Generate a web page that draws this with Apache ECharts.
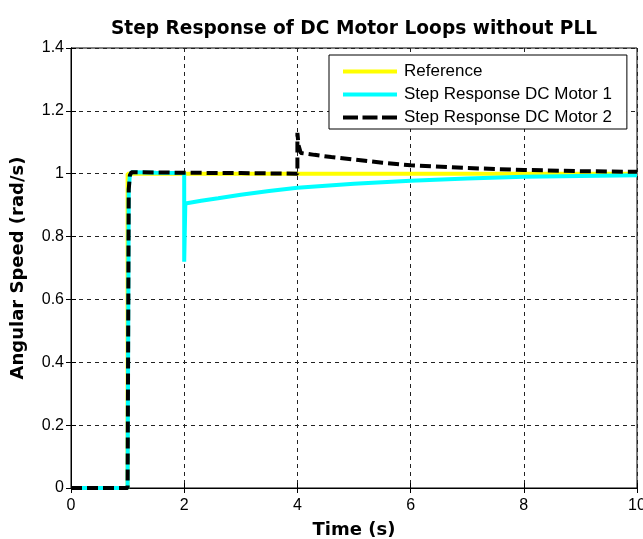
<!DOCTYPE html>
<html><head><meta charset="utf-8">
<script src="https://cdn.jsdelivr.net/npm/echarts@6/dist/echarts.min.js"></script>
<style>html,body{margin:0;padding:0;background:#fff;overflow:hidden}#c{width:643px;height:539px}</style>
</head><body><div id="c"></div>
<script>
const titleText = 'Step Response of DC Motor Loops without PLL';
const xTicks = [0, 2, 4, 6, 8, 10];
const yTicks = [0, 0.2, 0.4, 0.6, 0.8, 1, 1.2, 1.4];
const seriesNames = ['Reference', 'Step Response DC Motor 1', 'Step Response DC Motor 2'];

const refT = [0, 0.3, 1.0, 1.0, 2, 4, 6, 8, 10];
const refY = [0, 0, 0, 1.0, 1.0, 1.0, 1.0, 1.0, 1.0];

const m1T = [0, 0.3, 1.0, 1.02, 1.04, 1.07, 1.12, 1.5, 2.0, 2.0, 2.02, 2.3, 2.6, 3.0, 3.5, 4.0, 5.0, 6.0, 7.0, 8.0, 9.0, 10.0];
const m1Y = [0, 0, 0, 0.95, 0.995, 1.005, 1.005, 1.003, 1.002, 0.72, 0.905, 0.914, 0.922, 0.933, 0.945, 0.955, 0.968, 0.978, 0.985, 0.99, 0.993, 0.995];

const m2T = [0, 0.3, 1.0, 1.02, 1.04, 1.07, 1.12, 2.0, 3.0, 4.0, 4.0, 4.02, 4.06, 4.3, 4.6, 5.0, 5.5, 6.0, 7.0, 8.0, 9.0, 10.0];
const m2Y = [0, 0, 0, 0.95, 0.995, 1.005, 1.005, 1.003, 1.002, 1.0, 1.13, 1.09, 1.066, 1.06, 1.053, 1.045, 1.035, 1.027, 1.018, 1.012, 1.008, 1.006];

const zip = (a, b) => a.map((t, i) => [t, b[i]]);

const chart = echarts.init(document.getElementById('c'));
const font = 'Liberation Sans, Arial, sans-serif';
const boldFont = 'DejaVu Sans, sans-serif';
const gridL = 71, gridR = 6, gridT = 48, gridB = 51;
const noSym = { color: 'rgba(0,0,0,0)', borderColor: 'rgba(0,0,0,0)', borderWidth: 0 };
chart.setOption({
  animation: false,
  backgroundColor: '#fff',
  title: {
    text: titleText, left: 349, top: 15, textAlign: 'center',
    textStyle: { fontFamily: boldFont, fontWeight: 'bold', fontSize: 18.6, color: '#000' }
  },
  legend: {
    left: 329, top: 55, orient: 'vertical',
    padding: [8, 15, 3, 12],
    itemWidth: 54, itemHeight: 14, itemGap: 6,
    borderColor: '#000', borderWidth: 1, backgroundColor: '#fff',
    itemStyle: noSym,
    lineStyle: { width: 4 },
    textStyle: { fontFamily: font, fontSize: 17, color: '#000', padding: [0, 0, 0, 2] },
    data: [
      { name: seriesNames[0], itemStyle: noSym, lineStyle: { width: 4 } },
      { name: seriesNames[1], itemStyle: noSym, lineStyle: { width: 4 } },
      { name: seriesNames[2], itemStyle: noSym, lineStyle: { width: 4, type: [15, 4.5] } }
    ]
  },
  grid: { left: gridL, right: gridR, top: gridT, bottom: gridB, show: true, borderColor: '#000', borderWidth: 1,
    containLabel: false, outerBoundsMode: 'none' },
  xAxis: [{
    type: 'value', min: xTicks[0], max: xTicks[xTicks.length - 1], interval: 2,
    name: 'Time (s)', nameLocation: 'middle', nameGap: 33,
    nameTextStyle: { fontFamily: boldFont, fontWeight: 'bold', fontSize: 18, color: '#000' },
    axisLine: { show: true, lineStyle: { color: '#000', width: 1 } },
    axisTick: { show: true, inside: true, length: 5, lineStyle: { color: '#000' } },
    axisLabel: { fontFamily: font, fontSize: 16, color: '#000', margin: 10 },
    splitLine: { show: true, lineStyle: { color: '#222', width: 1, type: [4, 4] } }
  }, {
    type: 'value', position: 'top', min: 0, max: 10, interval: 2,
    axisLine: { show: true, lineStyle: { color: '#000' } },
    axisTick: { show: true, inside: true, length: 5, lineStyle: { color: '#000' } },
    axisLabel: { show: false }, splitLine: { show: false }
  }],
  yAxis: [{
    type: 'value', min: yTicks[0], max: yTicks[yTicks.length - 1], interval: 0.2,
    name: 'Angular Speed (rad/s)', nameLocation: 'middle', nameGap: 44,
    nameTextStyle: { fontFamily: boldFont, fontWeight: 'bold', fontSize: 18, color: '#000' },
    axisLine: { show: true, lineStyle: { color: '#000', width: 1 } },
    axisTick: { show: true, inside: true, length: 5, lineStyle: { color: '#000' } },
    axisLabel: { fontFamily: font, fontSize: 16, color: '#000', margin: 7,
      formatter: v => String(Math.round(v * 10) / 10) },
    splitLine: { show: true, lineStyle: { color: '#222', width: 1, type: [4, 4] } }
  }, {
    type: 'value', position: 'right', min: 0, max: 1.4, interval: 0.2,
    axisLine: { show: true, lineStyle: { color: '#000' } },
    axisTick: { show: true, inside: true, length: 5, lineStyle: { color: '#000' } },
    axisLabel: { show: false }, splitLine: { show: false }
  }],
  series: [{
    name: seriesNames[0], type: 'line', data: zip(refT, refY), symbol: 'none',
    lineStyle: { color: '#ffff00', width: 4 }, itemStyle: { color: '#ffff00' }, z: 2
  }, {
    name: seriesNames[1], type: 'line', data: zip(m1T, m1Y), symbol: 'none',
    lineStyle: { color: '#00ffff', width: 4 }, itemStyle: { color: '#00ffff' }, z: 3
  }, {
    name: seriesNames[2], type: 'line', data: zip(m2T, m2Y), symbol: 'none',
    lineStyle: { color: '#000', width: 4, type: [11, 5] }, itemStyle: { color: '#000' }, z: 4
  }]
});
</script></body></html>
